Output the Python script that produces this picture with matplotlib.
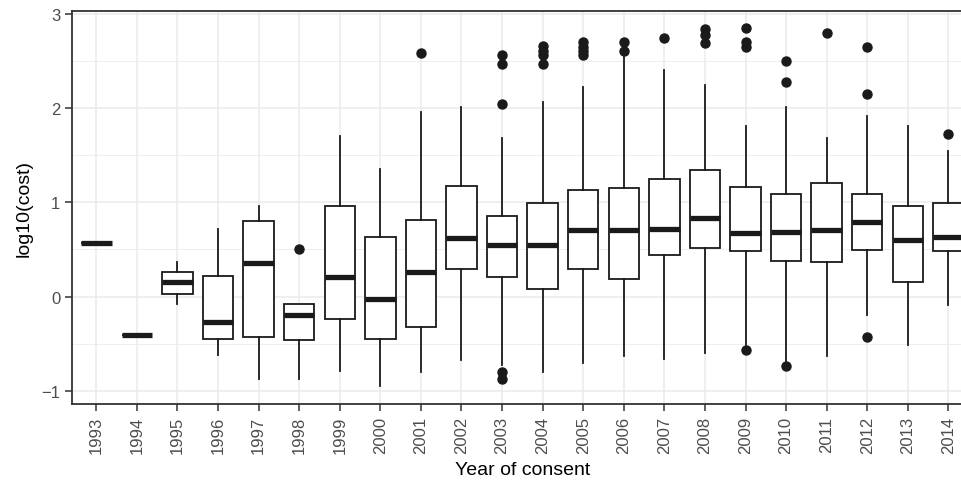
import numpy as np
import matplotlib
matplotlib.use("Agg")
import matplotlib.pyplot as plt

plt.rcParams['font.family'] = ['Liberation Sans', 'DejaVu Sans']

years = [str(y) for y in range(1993, 2015)]

q1 = [0.567, -0.407, 0.025, -0.446, -0.431, -0.46, -0.24, -0.446, -0.325, 0.291,
      0.206, 0.085, 0.291, 0.188, 0.439, 0.514, 0.482, 0.379, 0.365, 0.499, 0.159, 0.482]
med = [0.567, -0.407, 0.153, -0.272, 0.361, -0.2, 0.212, -0.021, 0.259, 0.626,
       0.552, 0.552, 0.705, 0.705, 0.719, 0.835, 0.673, 0.687, 0.705, 0.793, 0.599, 0.634]
q3 = [0.567, -0.407, 0.262, 0.22, 0.80, -0.077, 0.96, 0.637, 0.814, 1.178,
      0.857, 0.991, 1.136, 1.151, 1.253, 1.342, 1.165, 1.09, 1.21, 1.09, 0.96, 0.991]
whis_lo = [0.567, -0.407, -0.081, -0.616, -0.874, -0.874, -0.789, -0.951, -0.803, -0.672,
           -0.73, -0.803, -0.70, -0.63, -0.658, -0.598, -0.51, -0.68, -0.63, -0.194, -0.51, -0.091]
whis_hi = [0.567, -0.407, 0.372, 0.719, 0.96, -0.077, 1.70, 1.359, 1.964, 2.01,
           1.685, 2.067, 2.223, 2.548, 2.40, 2.25, 1.815, 2.01, 1.685, 1.921, 1.815, 1.55]
outliers = [[], [], [], [], [], [0.506], [], [], [2.587], [],
            [2.566, 2.47, 2.04, -0.80, -0.87],
            [2.665, 2.61, 2.566, 2.47],
            [2.70, 2.65, 2.61, 2.566],
            [2.70, 2.61],
            [2.75],
            [2.842, 2.778, 2.69],
            [2.852, 2.707, 2.648, -0.569],
            [2.499, 2.279, -0.74],
            [2.796],
            [2.648, 2.155, -0.425],
            [],
            [1.73]]

stats = []
for i in range(len(years)):
    stats.append(dict(med=med[i], q1=q1[i], q3=q3[i], whislo=whis_lo[i],
                      whishi=whis_hi[i], fliers=outliers[i]))

fig = plt.figure(figsize=(9.61, 4.85), dpi=100)
ax = fig.add_axes([0.0749, 0.165, 0.9373, 0.81])

ax.set_axisbelow(True)
ax.grid(which="major", color="#ebebeb", linewidth=1.1)
ax.grid(which="minor", color="#ebebeb", linewidth=0.6)
ax.set_yticks([-0.5, 0.5, 1.5, 2.5], minor=True)
ax.tick_params(axis="y", which="minor", length=0)

ax.bxp(stats, positions=range(1, len(years) + 1), widths=0.75, showcaps=False,
       patch_artist=True,
       boxprops=dict(facecolor="white", edgecolor="#1a1a1a", linewidth=1.3),
       whiskerprops=dict(color="#1a1a1a", linewidth=1.3),
       medianprops=dict(color="#1a1a1a", linewidth=3.8, solid_capstyle="butt"),
       flierprops=dict(marker="o", markerfacecolor="#1a1a1a", markeredgecolor="#1a1a1a",
                       markersize=6.5))

ax.set_xlim(0.4, 22.6)
ax.set_ylim(-1.14, 3.03)
ax.set_xticks(range(1, len(years) + 1))
ax.set_xticklabels(years, rotation=90, fontsize=12, color="#4d4d4d")
ax.set_yticks([-1, 0, 1, 2, 3])
ax.set_yticklabels(["\u22121", "0", "1", "2", "3"], fontsize=12, color="#4d4d4d")
ax.tick_params(axis="both", which="major", length=5, width=1.1, color="#333333")

for s in ax.spines.values():
    s.set_color("#333333")
    s.set_linewidth(1.3)

ax.set_xlabel("Year of consent", fontsize=14, labelpad=6)
ax.set_ylabel("log10(cost)", fontsize=14, labelpad=6)

fig.savefig("out.png", dpi=100)
